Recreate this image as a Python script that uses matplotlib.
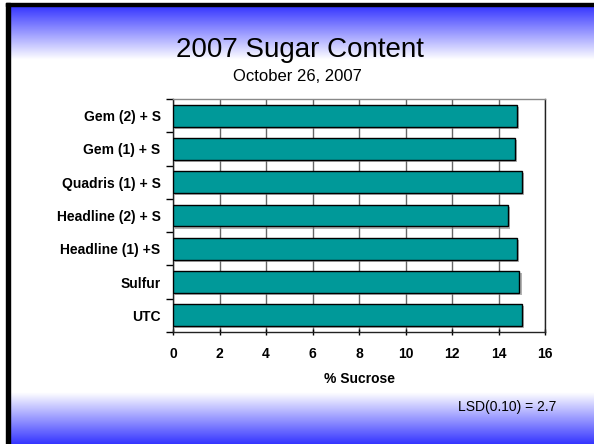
import numpy as np
import matplotlib
matplotlib.use('Agg')
from matplotlib import pyplot as plt
import matplotlib.patheffects as pe

plt.rcParams['font.family'] = ['Liberation Sans', 'DejaVu Sans']

treatments = ['Gem (2) + S', 'Gem (1) + S', 'Quadris (1) + S', 'Headline (2) + S',
              'Headline (1) +S', 'Sulfur', 'UTC']
sucrose = [14.8, 14.7, 15.0, 14.4, 14.8, 14.9, 15.0]
xticks = [0, 2, 4, 6, 8, 10, 12, 14, 16]

fig = plt.figure(figsize=(5.94, 4.44), dpi=100)

# slide background: blue fading to white at top and bottom
H = 444
rows = np.ones((H, 3))
blue = np.array([0.2, 0.2, 1.0])
for r in range(H):
    if r < 60:
        t = max(0.0, (60 - r) / 54.0)
    elif r > 392:
        t = (r - 392) / 52.0
    else:
        t = 0.0
    t = min(t, 1.0)
    rows[r] = (1 - t) * np.ones(3) + t * blue
bg = fig.add_axes([0, 0, 1, 1], zorder=-10)
bg.imshow(rows[:, None, :], aspect='auto', extent=[0, 594, 444, 0])
bg.fill_between([0, 594], 0, 3, color='white')
bg.fill_between([0, 6], 0, 444, color='white')
bg.fill_between([6, 594], 3, 6.5, color='black')
bg.fill_between([6, 9.5], 3, 444, color='black')
bg.set_xlim(0, 594)
bg.set_ylim(444, 0)
bg.axis('off')

ax = fig.add_axes([173 / 594, 1 - 332 / 444, 372 / 594, 233 / 444])
ax.set_facecolor('white')
y = np.arange(len(treatments))
bars = ax.barh(y, sucrose, height=0.66, color='#009999', edgecolor='black',
               linewidth=1, zorder=3)
for b in bars:
    b.set_path_effects([pe.SimplePatchShadow(offset=(1.5, -1.5), shadow_rgbFace='gray', alpha=0.6),
                        pe.Normal()])

ax.set_xlim(0, 16)
ax.set_ylim(len(treatments) - 0.5, -0.5)
ax.set_xticks(xticks)
ax.set_xticklabels([str(v) for v in xticks], fontsize=10, fontweight='bold')
ax.set_yticks(y)
ax.set_yticklabels(treatments, fontsize=10, fontweight='bold')
ax.set_yticks(np.arange(len(treatments) + 1) - 0.5, minor=True)
ax.tick_params(axis='y', which='major', length=0, pad=9)
ax.tick_params(axis='y', which='minor', length=5, width=1, direction='out')
ax.tick_params(axis='x', length=5, width=1, direction='inout', pad=8)
ax.grid(axis='x', color='#666666', linewidth=1, zorder=0)
ax.set_axisbelow(True)
for s in ax.spines.values():
    s.set_linewidth(1)
    s.set_color('#222222')
ax.spines['top'].set_color('#888888')
ax.set_xlabel('% Sucrose', fontsize=10, fontweight='bold', labelpad=8)

fig.text(0.505, 1 - 56.7 / 444, '2007 Sugar Content', fontsize=20, ha='center', va='baseline')
fig.text(0.5, 1 - 81 / 444, 'October 26, 2007', fontsize=12, ha='center', va='baseline')
fig.text(556 / 594, 1 - 411 / 444, 'LSD(0.10) = 2.7', fontsize=10, ha='right', va='baseline')

fig.savefig('out.png', dpi=100)
